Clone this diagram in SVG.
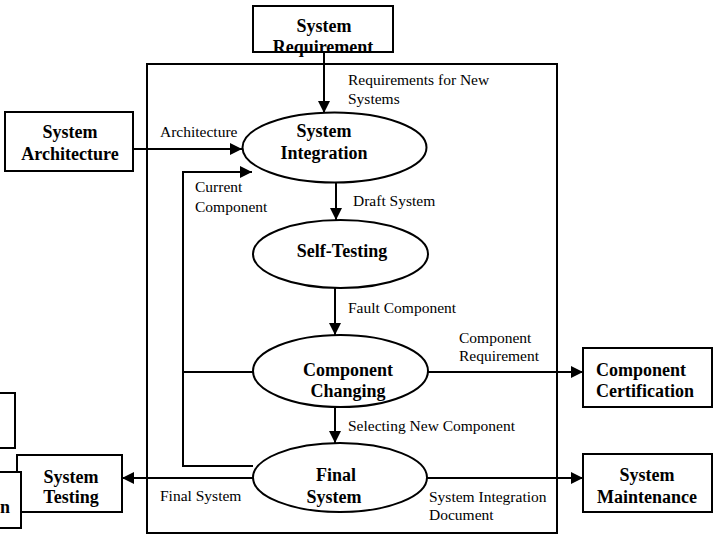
<svg xmlns="http://www.w3.org/2000/svg" width="720" height="536" viewBox="0 0 720 536">
<defs>
<marker id="arr" markerWidth="12" markerHeight="12" refX="12" refY="6" orient="auto" markerUnits="userSpaceOnUse">
<path d="M0,0 L12,6 L0,12 Z" fill="#000"/>
</marker>
<style>
.box{fill:#fff;stroke:#000;stroke-width:2}
.ell{fill:#fff;stroke:#000;stroke-width:2}
.frame{fill:none;stroke:#000;stroke-width:2}
.b{font-family:"Liberation Serif","Times New Roman",serif;font-weight:bold;font-size:18px;fill:#000}
.l{font-family:"Liberation Serif","Times New Roman",serif;font-size:15.5px;fill:#000}
.c{stroke:#000;stroke-width:2;fill:none}
</style>
</defs>
<rect width="720" height="536" fill="#fff"/>
<rect class="frame" x="147" y="64" width="410" height="469"/>
<g id="connectors">
<line class="c" x1="324" y1="52" x2="324" y2="113" marker-end="url(#arr)"/>
<line class="c" x1="133" y1="149" x2="242" y2="149" marker-end="url(#arr)"/>
<polyline class="c" points="253,466 183,466 183,172 252,172" marker-end="url(#arr)"/>
<line class="c" x1="253" y1="372" x2="183" y2="372"/>
<line class="c" x1="336" y1="182" x2="336" y2="220" marker-end="url(#arr)"/>
<line class="c" x1="335" y1="288" x2="335" y2="335" marker-end="url(#arr)"/>
<line class="c" x1="335" y1="407" x2="335" y2="443" marker-end="url(#arr)"/>
<line class="c" x1="428" y1="372" x2="583" y2="372" marker-end="url(#arr)"/>
<line class="c" x1="253" y1="478" x2="122" y2="478" marker-end="url(#arr)"/>
<line class="c" x1="427" y1="478" x2="583" y2="478" marker-end="url(#arr)"/>
<text class="l" x="348" y="85">Requirements for New</text>
<text class="l" x="348" y="104">Systems</text>
<text class="l" x="160" y="137">Architecture</text>
<text class="l" x="195" y="192">Current</text>
<text class="l" x="195" y="212">Component</text>
<text class="l" x="353" y="206">Draft System</text>
<text class="l" x="348" y="313">Fault Component</text>
<text class="l" x="459" y="343">Component</text>
<text class="l" x="459" y="361">Requirement</text>
<text class="l" x="348" y="431">Selecting New Component</text>
<text class="l" x="160" y="501">Final System</text>
<text class="l" x="429" y="502">System Integration</text>
<text class="l" x="429" y="520">Document</text>
</g>
<g id="system-requirement">
<rect class="box" x="253" y="6" width="140" height="46"/>
<text class="b" x="324" y="32" text-anchor="middle">System</text>
<text class="b" x="323" y="53" text-anchor="middle">Requirement</text>
</g>
<g id="system-architecture">
<rect class="box" x="5" y="112" width="128" height="59"/>
<text class="b" x="70" y="138" text-anchor="middle">System</text>
<text class="b" x="70" y="160" text-anchor="middle">Architecture</text>
</g>
<g id="system-integration">
<ellipse class="ell" cx="334.5" cy="147.5" rx="92" ry="35"/>
<text class="b" x="324" y="137" text-anchor="middle">System</text>
<text class="b" x="324" y="159" text-anchor="middle">Integration</text>
</g>
<g id="self-testing">
<ellipse class="ell" cx="340.5" cy="254" rx="87.5" ry="34"/>
<text class="b" x="342" y="257" text-anchor="middle">Self-Testing</text>
</g>
<g id="component-changing">
<ellipse class="ell" cx="340.5" cy="371" rx="87.5" ry="36"/>
<text class="b" x="348" y="376" text-anchor="middle">Component</text>
<text class="b" x="348" y="397" text-anchor="middle">Changing</text>
</g>
<g id="final-system">
<ellipse class="ell" cx="340" cy="477.5" rx="87" ry="34.5"/>
<text class="b" x="336" y="481" text-anchor="middle">Final</text>
<text class="b" x="334" y="503" text-anchor="middle">System</text>
</g>
<g id="component-certification">
<rect class="box" x="583" y="348" width="129" height="59"/>
<text class="b" x="596" y="376">Component</text>
<text class="b" x="596" y="397">Certification</text>
</g>
<g id="system-maintenance">
<rect class="box" x="583" y="454" width="129" height="58"/>
<text class="b" x="647" y="481" text-anchor="middle">System</text>
<text class="b" x="647" y="503" text-anchor="middle">Maintenance</text>
</g>
<g id="system-testing">
<rect class="box" x="17" y="455" width="105" height="57"/>
<text class="b" x="71" y="483" text-anchor="middle">System</text>
<text class="b" x="71" y="503" text-anchor="middle">Testing</text>
</g>
<g id="partial-box-top">
<rect class="box" x="-10" y="393" width="25" height="55"/>
</g>
<g id="partial-box-bottom">
<rect class="box" x="-10" y="472" width="31" height="56"/>
<text class="b" x="0" y="513">n</text>
</g>
</svg>
